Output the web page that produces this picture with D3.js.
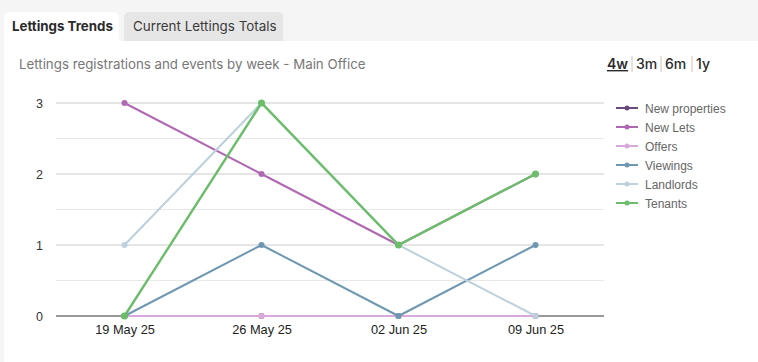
<!DOCTYPE html>
<html>
<head>
<meta charset="utf-8">
<script src="https://cdn.jsdelivr.net/npm/d3@7"></script>
<style>
  body { margin: 0; background: #f5f5f5; font-family: Inter, "Noto Sans", sans-serif; }
  svg { display: block; }
</style>
</head>
<body>
<svg id="chart" width="758" height="362"></svg>
<script>
// weekly lettings series
const WEEKS = ['19 May 25', '26 May 25', '02 Jun 25', '09 Jun 25'];
const SERIES_NAMES = ['New properties', 'New Lets', 'Offers', 'Viewings', 'Landlords', 'Tenants'];
const SERIES_COLORS = ['#6b4a80', '#b067b4', '#d9a9dc', '#6e97b1', '#bdd0dd', '#6bbd6a'];
const NEW_PROPERTIES = [0, 0, 0, 0];
const NEW_LETS = [3, 2, 1, 2];
const OFFERS = [0, 0, 0, 0];
const VIEWINGS = [0, 1, 0, 1];
const LANDLORDS = [1, 3, 1, 0];
const TENANTS = [0, 3, 1, 2];
const Y_TICKS = [0, 1, 2, 3];
const RANGES = ['4w', '3m', '6m', '1y'];

const seriesValues = [NEW_PROPERTIES, NEW_LETS, OFFERS, VIEWINGS, LANDLORDS, TENANTS];
const series = SERIES_NAMES.map((name, i) => ({ name, color: SERIES_COLORS[i], values: seriesValues[i] }));

const svg = d3.select('#chart');

// tabs + white panel
svg.append('rect').attr('x', 4).attr('y', 41).attr('width', 754).attr('height', 321).attr('fill', '#fff');
svg.append('rect').attr('x', 4).attr('y', 12).attr('width', 115).attr('height', 34).attr('rx', 5).attr('fill', '#fff');
svg.append('rect').attr('x', 124).attr('y', 12).attr('width', 159).attr('height', 29).attr('rx', 5).attr('fill', '#e6e6e6');
svg.append('rect').attr('x', 124).attr('y', 30).attr('width', 159).attr('height', 11).attr('fill', '#e6e6e6');
svg.append('text').attr('x', 12).attr('y', 31).attr('fill', '#2b2b2b')
  .style('font-size', '13.3px').style('font-weight', '700').text('Lettings Trends');
svg.append('text').attr('x', 133).attr('y', 31).attr('fill', '#3a3a3a')
  .style('font-size', '13.4px').text('Current Lettings Totals');

svg.append('text').attr('x', 19).attr('y', 69).attr('fill', '#777')
  .style('font-size', '13.3px').text('Lettings registrations and events by week - Main Office');

// range switcher
const rangeX = [607, 636, 665, 696];
RANGES.forEach((r, i) => {
  svg.append('text').attr('x', rangeX[i]).attr('y', 69).attr('fill', '#2b2b2b')
    .style('font-size', '14px').style('font-weight', i === 0 ? '600' : '500')
    .style('text-decoration', i === 0 ? 'underline' : null).text(r);
  if (i > 0) {
    svg.append('line').attr('x1', rangeX[i] - 4).attr('x2', rangeX[i] - 4).attr('y1', 56).attr('y2', 72)
      .attr('stroke', '#d4c2b8').attr('stroke-width', 1);
  }
});

// chart
const x = d3.scalePoint().domain(WEEKS).range([56, 604]).padding(0.5);
const y = d3.scaleLinear().domain([0, 3]).range([316, 103]);

const grid = svg.append('g');
d3.range(0, 3.01, 0.5).forEach((v) => {
  if (v === 0) return;
  grid.append('line').attr('x1', 56).attr('x2', 604).attr('y1', y(v)).attr('y2', y(v))
    .attr('stroke', Number.isInteger(v) ? '#cccccc' : '#e8e8e8').attr('stroke-width', 1);
});
svg.append('line').attr('x1', 56).attr('x2', 604).attr('y1', y(0)).attr('y2', y(0))
  .attr('stroke', '#333').attr('stroke-width', 1.2);

const yAxis = svg.append('g').attr('transform', 'translate(56,0)')
  .call(d3.axisLeft(y).tickValues(Y_TICKS).tickSize(0).tickPadding(13).tickFormat(d3.format('d')));
yAxis.select('.domain').remove();
yAxis.selectAll('text').attr('fill', '#333').style('font-family', '"Liberation Sans", Arial, sans-serif').style('font-size', '12.5px');

const xAxis = svg.append('g').attr('transform', `translate(0,${y(0)})`)
  .call(d3.axisBottom(x).tickSize(0).tickPadding(9));
xAxis.select('.domain').remove();
xAxis.selectAll('text').attr('fill', '#222').style('font-family', '"Liberation Sans", Arial, sans-serif').style('font-size', '12.8px');

const line = d3.line().x((d, i) => x(WEEKS[i])).y((d) => y(d));
const lines = svg.append('g');
series.forEach((s) => {
  lines.append('path').attr('d', line(s.values)).attr('fill', 'none')
    .attr('stroke', s.color).attr('stroke-width', s.name === 'Tenants' ? 2.4 : 2);
  lines.selectAll(null).data(s.values).enter().append('circle')
    .attr('cx', (d, i) => x(WEEKS[i])).attr('cy', (d) => y(d)).attr('r', s.name === 'Tenants' ? 3.5 : 3)
    .attr('fill', s.color);
});

// legend
const legend = svg.append('g').attr('transform', 'translate(616,108)');
const rows = legend.selectAll('g').data(series).enter().append('g')
  .attr('transform', (d, i) => `translate(0,${i * 19})`);
rows.append('line').attr('x1', 0).attr('x2', 22).attr('stroke', (d) => d.color).attr('stroke-width', 2);
rows.append('circle').attr('cx', 11).attr('r', 2.5).attr('fill', (d) => d.color);
rows.append('text').attr('x', 29).attr('y', 4.5).attr('fill', '#666')
  .style('font-family', '"Liberation Sans", Arial, sans-serif').style('font-size', '12px').text((d) => d.name);
</script>
</body>
</html>
